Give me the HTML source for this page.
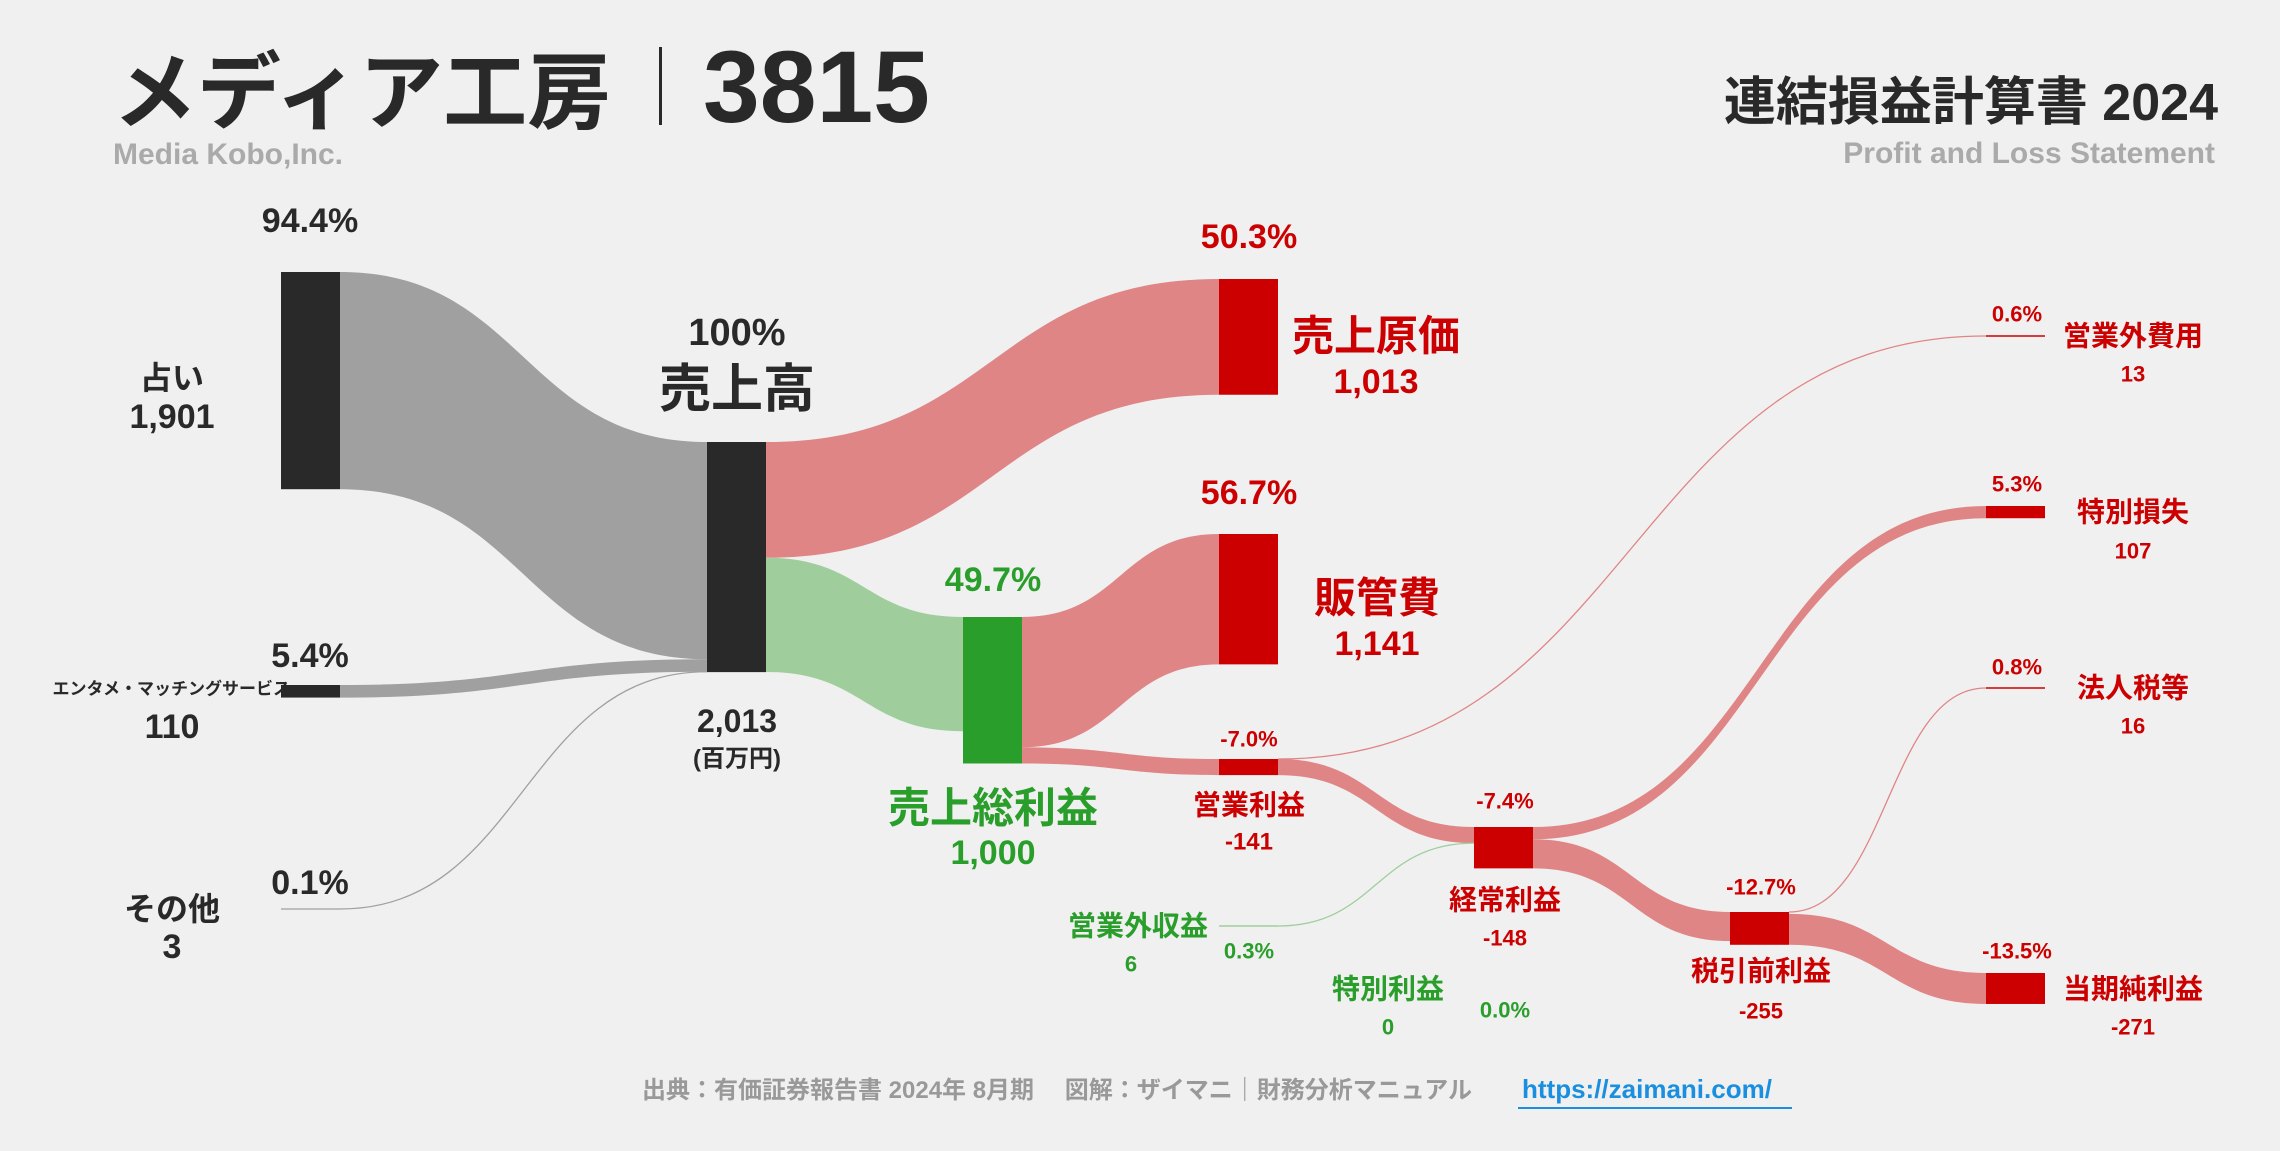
<!DOCTYPE html>
<html><head><meta charset="utf-8"><style>
html,body{margin:0;padding:0;background:#f0f0f0;}
svg{display:block;font-family:"Liberation Sans","Noto Sans CJK JP",sans-serif;font-weight:bold;}
</style></head><body>
<svg id="c" width="2280" height="1151" viewBox="0 0 2280 1151">
<rect width="2280" height="1151" fill="#f0f0f0"/>
<g>
<text x="113" y="122" font-size="84" fill="#292929">メディア工房</text>
<rect x="659" y="47" width="3" height="78" fill="#292929"/>
<text x="703" y="122" font-size="102" fill="#292929">3815</text>
<text x="113" y="164" font-size="30" fill="#aaaaaa">Media Kobo,Inc.</text>
<text x="2218" y="120" font-size="52" fill="#292929" text-anchor="end">連結損益計算書 2024</text>
<text x="2215" y="163" font-size="30" fill="#aaaaaa" text-anchor="end">Profit and Loss Statement</text>
</g>
<g id="flows"></g><g id="nodes"></g><g id="labels"></g>
<g>
<text x="1057" y="1098" font-size="24" fill="#999" text-anchor="middle">出典：有価証券報告書 2024年 8月期　 図解：ザイマニ｜財務分析マニュアル</text>
<text x="1522" y="1098" font-size="26" fill="#1a8fe0">https://zaimani.com/</text>
<rect x="1518" y="1107" width="274" height="2" fill="#1a8fe0"/>
</g>
</svg>
<script>
const revenueTotal = 2013;
const segNames = ["占い","エンタメ・マッチングサービス","その他"];
const segValues = [1901,110,3];
const segPct = ["94.4%","5.4%","0.1%"];
const costValues = {cogs:1013, gross:1000, sga:1141, opLoss:141, nonOpInc:6, nonOpExp:13, ordLoss:148, extInc:0, extLoss:107, pretaxLoss:255, tax:16, netLoss:271};
const pctLabels = {cogs:"50.3%", gross:"49.7%", sga:"56.7%", op:"-7.0%", nonOpInc:"0.3%", extInc:"0.0%", ord:"-7.4%", pretax:"-12.7%", net:"-13.5%", nonOpExp:"0.6%", extLoss:"5.3%", tax:"0.8%"};

const NS="http://www.w3.org/2000/svg";
const k = 230/revenueTotal;
const W=59;
const X=[281,707,963,1219,1474,1730,1986];
const DARK="#292929",GRAY="#a0a0a0",RED="#cc0000",RFL="#e08585",GRN="#2a9e2a",GFL="#9fce9c";
const fG=document.getElementById('flows'),nG=document.getElementById('nodes'),lG=document.getElementById('labels');
function mk(tag,attrs,parent){const e=document.createElementNS(NS,tag);for(const a in attrs)e.setAttribute(a,attrs[a]);parent.appendChild(e);return e;}
function node(x,y,h,color,name){const r=mk('rect',{x:x,y:y,width:W,height:Math.max(h,1.5),fill:color},nG);

}
function flow(x0,y0,x1,y1,th,color,name){
 const xm=(x0+x1)/2;let e;
 if(th<2.5){e=mk('path',{d:`M${x0},${y0}C${xm},${y0} ${xm},${y1} ${x1},${y1}`,fill:'none',stroke:color,'stroke-width':1.3},fG);}
 else e=mk('path',{d:`M${x0},${y0}C${xm},${y0} ${xm},${y1} ${x1},${y1}L${x1},${y1+th}C${xm},${y1+th} ${xm},${y0+th} ${x0},${y0+th}Z`,fill:color},fG);
 
 }
function txt(x,y,s,size,color,name,anchor){const t=mk('text',{x:x,y:y,'font-size':size,fill:color,'text-anchor':anchor||'middle','dominant-baseline':'central'},lG);t.textContent=s;

}

const segTop=[272,685,909];
const segH=segValues.map(v=>v*k);
let ry=442;
segValues.forEach((v,i)=>{
 flow(X[0]+W,segTop[i],X[1],ry,segH[i],GRAY,'flow-'+i);
 ry+=segH[i];
});
segValues.forEach((v,i)=>{ if(segH[i]>=2) node(X[0],segTop[i],segH[i],DARK,'segment-node-'+i); });
mk('line',{x1:X[0],y1:segTop[2],x2:X[0]+W,y2:segTop[2],stroke:GRAY,'stroke-width':1.3},fG);
const revH=segValues.reduce((a,b)=>a+b,0)*k;
node(X[1],442,revH,DARK,'revenue-node');

const cogsH=costValues.cogs*k, grossH=costValues.gross*k;
flow(X[1]+W,442,X[3],279,cogsH,RFL,'flow-cogs');
flow(X[1]+W,442+cogsH,X[2],617,grossH,GFL,'flow-gross');
node(X[3],279,cogsH,RED,'cogs-node');
const sgaH=costValues.sga*k, opH=costValues.opLoss*k;
flow(X[2]+W,617,X[3],534,sgaH,RFL,'flow-sga');
flow(X[2]+W,617+sgaH,X[3],759,opH,RFL,'flow-op-loss');
node(X[2],617,Math.max(grossH,sgaH+opH),GRN,'gross-profit-node');
node(X[3],534,sgaH,RED,'sga-node');
flow(X[3]+W,759,X[6],336,costValues.nonOpExp*k,RFL,'flow-nonop-exp');
mk('line',{x1:X[6],y1:336,x2:X[6]+W,y2:336,stroke:RED,'stroke-width':1.5},nG);
flow(X[3]+W,759,X[4],827,opH,RFL,'flow-op-to-ord');
node(X[3],759,opH,RED,'op-loss-node');
mk('line',{x1:X[3],y1:926,x2:X[3]+W,y2:926,stroke:GFL,'stroke-width':1.5},fG);
flow(X[3]+W,926,X[4],827+opH,costValues.nonOpInc*k,GFL,'flow-nonop-inc');
const elH=costValues.extLoss*k, ptH=costValues.pretaxLoss*k;
flow(X[4]+W,827,X[6],506,elH,RFL,'flow-ext-loss');
flow(X[4]+W,827+elH,X[5],912,ptH,RFL,'flow-pretax');
node(X[4],827,elH+ptH,RED,'ordinary-node');
node(X[6],506,elH,RED,'ext-loss-node');
const taxH=costValues.tax*k, netH=costValues.netLoss*k;
flow(X[5]+W,912,X[6],688,taxH,RFL,'flow-tax');
mk('line',{x1:X[6],y1:688,x2:X[6]+W,y2:688,stroke:RED,'stroke-width':1.5},nG);
flow(X[5]+W,912+taxH,X[6],973,netH,RFL,'flow-net');
node(X[5],912,taxH+netH,RED,'pretax-node');
node(X[6],973,netH,RED,'net-loss-node');

const fmt=v=>v.toLocaleString('en-US');
txt(310,221,segPct[0],34,DARK,'pct-seg0');
txt(172,378,segNames[0],32,DARK,'seg0-name');txt(172,417,fmt(segValues[0]),34,DARK,'seg0-value');
txt(310,656,segPct[1],34,DARK,'pct-seg1');
txt(290,689,segNames[1],17,DARK,'seg1-name','end');txt(172,727,fmt(segValues[1]),34,DARK,'seg1-value');
txt(310,883,segPct[2],34,DARK,'pct-seg2');
txt(172,909,segNames[2],32,DARK,'seg2-name');txt(172,947,fmt(segValues[2]),34,DARK,'seg2-value');
txt(737,333,"100%",38,DARK,'pct-revenue');txt(737,390,"売上高",52,DARK,'revenue-name');
txt(737,721,fmt(revenueTotal),32,DARK,'revenue-value');txt(737,759,"(百万円)",24,DARK,'unit');
txt(1249,237,pctLabels.cogs,34,RED,'pct-cogs');txt(1376,336,"売上原価",42,RED,'cogs-name');txt(1376,382,fmt(costValues.cogs),34,RED,'cogs-value');
txt(1249,493,pctLabels.sga,34,RED,'pct-sga');txt(1377,598,"販管費",42,RED,'sga-name');txt(1377,644,fmt(costValues.sga),34,RED,'sga-value');
txt(993,580,pctLabels.gross,34,GRN,'pct-gross');txt(993,808,"売上総利益",42,GRN,'gross-name');txt(993,853,fmt(costValues.gross),34,GRN,'gross-value');
txt(1249,739,pctLabels.op,22,RED,'pct-op');txt(1249,805,"営業利益",28,RED,'op-name');txt(1249,842,"-"+costValues.opLoss,24,RED,'op-value');
txt(1208,926,"営業外収益",28,GRN,'nonop-inc-name','end');txt(1131,964,costValues.nonOpInc,22,GRN,'nonop-inc-value');txt(1249,951,pctLabels.nonOpInc,22,GRN,'pct-nonop-inc');
txt(1388,989,"特別利益",28,GRN,'ext-inc-name');txt(1388,1027,costValues.extInc,22,GRN,'ext-inc-value');txt(1505,1010,pctLabels.extInc,22,GRN,'pct-ext-inc');
txt(1505,801,pctLabels.ord,22,RED,'pct-ord');txt(1505,900,"経常利益",28,RED,'ord-name');txt(1505,938,"-"+costValues.ordLoss,22,RED,'ord-value');
txt(1761,887,pctLabels.pretax,22,RED,'pct-pretax');txt(1761,971,"税引前利益",28,RED,'pretax-name');txt(1761,1011,"-"+costValues.pretaxLoss,22,RED,'pretax-value');
txt(2017,951,pctLabels.net,22,RED,'pct-net');txt(2133,989,"当期純利益",28,RED,'net-name');txt(2133,1027,"-"+costValues.netLoss,22,RED,'net-value');
txt(2017,314,pctLabels.nonOpExp,22,RED,'pct-nonop-exp');txt(2133,336,"営業外費用",28,RED,'nonop-exp-name');txt(2133,374,costValues.nonOpExp,22,RED,'nonop-exp-value');
txt(2017,484,pctLabels.extLoss,22,RED,'pct-ext-loss');txt(2133,512,"特別損失",28,RED,'ext-loss-name');txt(2133,551,costValues.extLoss,22,RED,'ext-loss-value');
txt(2017,667,pctLabels.tax,22,RED,'pct-tax');txt(2133,688,"法人税等",28,RED,'tax-name');txt(2133,726,costValues.tax,22,RED,'tax-value');
</script>
</body></html>
